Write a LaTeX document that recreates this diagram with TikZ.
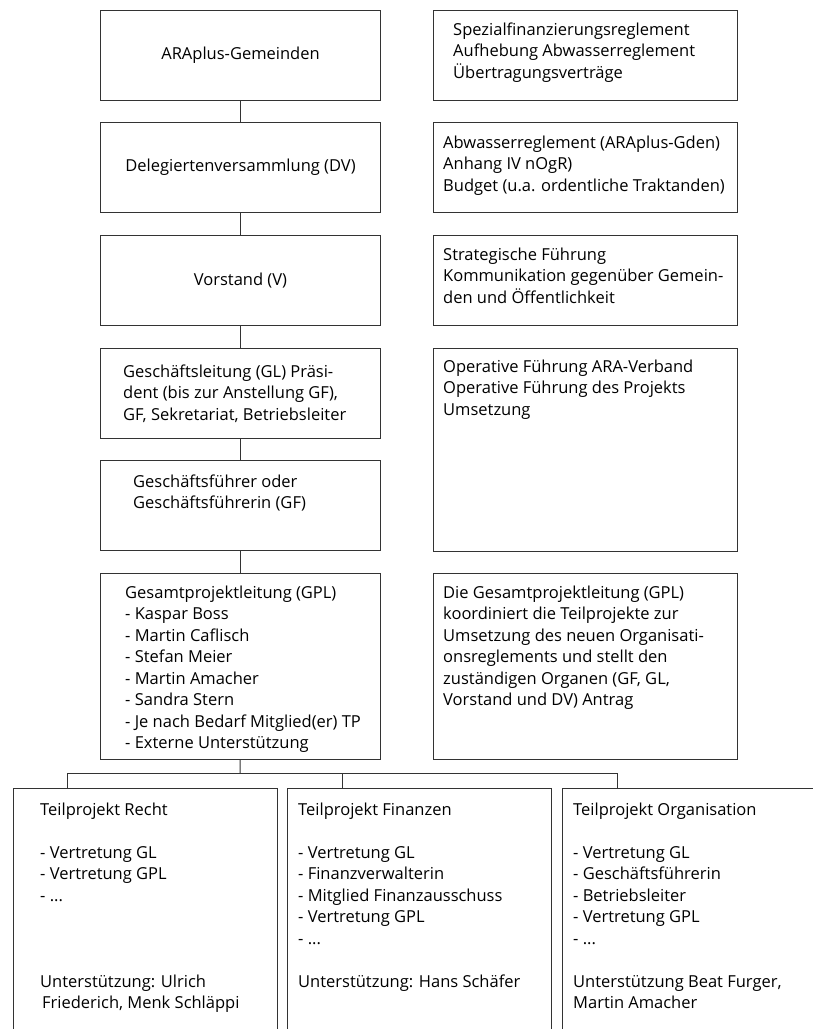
\documentclass[tikz,border=0pt]{standalone}
\usepackage{fontspec}
\setmainfont{Open Sans}
\usetikzlibrary{positioning}
\tikzset{orgbox/.style={draw=black!80,line width=1pt,anchor=north west,inner sep=0pt,
    minimum width=280pt,minimum height=90pt,font=\fontsize{16.5}{21.5}\selectfont},
  notebox/.style={orgbox,minimum width=304pt},
  tpbox/.style={orgbox,minimum width=264pt,minimum height=300pt},
  boxtext/.style={anchor=base west,align=flush left,text width=360pt,inner sep=0pt,
    font=\fontsize{16.5}{21.5}\selectfont},
  link/.style={draw=black!80,line width=1pt}}

\begin{document}
\begin{tikzpicture}[x=1pt,y=-1pt]
    \useasboundingbox (0,0) rectangle (813,1029);
    \clip (0,0) rectangle (813,1029);

    % Organe (links)
    \node[orgbox] (gemeinden) at (100,10) {ARAplus-Gemeinden};
    \node[orgbox] (dv) at (100,122) {Delegiertenversammlung (DV)};
    \node[orgbox] (vorstand) at (100,235) {Vorstand (V)};
    \node[orgbox] (gl) at (100,348) {};
    \node[orgbox] (gf) at (100,460) {};
    \node[orgbox,minimum height=186pt] (gpl) at (100,573) {};

    \node[boxtext] (gl-t) at (123,377) {Geschäftsleitung (GL) Präsi-\\dent (bis zur Anstellung GF),\\GF, Sekretariat, Betriebsleiter};
    \node[boxtext] (gf-t) at (133,487) {Geschäftsführer oder\\Geschäftsführerin (GF)};
    \node[boxtext] (gpl-t) at (125,598) {Gesamtprojektleitung (GPL)\\- Kaspar Boss\\- Martin Caflisch\\- Stefan Meier\\- Martin Amacher\\- Sandra Stern\\- Je nach Bedarf Mitglied(er) TP\\- Externe Unterstützung};

    % Aufgaben (rechts)
    \node[notebox] (n1) at (433,10) {};
    \node[notebox] (n2) at (433,122) {};
    \node[notebox] (n3) at (433,235) {};
    \node[notebox,minimum height=203pt] (n4) at (433,348) {};
    \node[notebox,minimum height=186pt] (n5) at (433,573) {};

    \node[boxtext] (n1-t) at (453,35) {Spezialfinanzierungsreglement\\Aufhebung Abwasserreglement\\Übertragungsverträge};
    \node[boxtext] (n2-t) at (443,148) {Abwasserreglement (ARAplus-Gden)\\Anhang IV nOgR)\\Budget (u.a. ordentliche Traktanden)};
    \node[boxtext] (n3-t) at (443,260) {Strategische Führung\\Kommunikation gegenüber Gemein-\\den und Öffentlichkeit};
    \node[boxtext] (n4-t) at (443,372) {Operative Führung ARA-Verband\\Operative Führung des Projekts\\Umsetzung};
    \node[boxtext] (n5-t) at (443,598) {Die Gesamtprojektleitung (GPL)\\koordiniert die Teilprojekte zur\\Umsetzung des neuen Organisati-\\onsreglements und stellt den\\zuständigen Organen (GF, GL,\\Vorstand und DV) Antrag};

    % Teilprojekte
    \node[tpbox] (recht) at (13,788) {};
    \node[tpbox] (finanzen) at (287,788) {};
    \node[tpbox] (orga) at (562,788) {};

    \node[boxtext] (recht-t) at (40,815) {Teilprojekt Recht\\[21.5pt]- Vertretung GL\\- Vertretung GPL\\- ...\\[64.5pt]Unterstützung: Ulrich\\\hspace*{2pt}Friederich, Menk Schläppi};
    \node[boxtext] (finanzen-t) at (298,815) {Teilprojekt Finanzen\\[21.5pt]- Vertretung GL\\- Finanzverwalterin\\- Mitglied Finanzausschuss\\- Vertretung GPL\\- ...\\[21.5pt]Unterstützung: Hans Schäfer};
    \node[boxtext] (orga-t) at (573,815) {Teilprojekt Organisation\\[21.5pt]- Vertretung GL\\- Geschäftsführerin\\- Betriebsleiter\\- Vertretung GPL\\- ...\\[21.5pt]Unterstützung Beat Furger,\\Martin Amacher};

    % Verbindungen
    \draw[link] (gemeinden) -- (dv);
    \draw[link] (dv) -- (vorstand);
    \draw[link] (vorstand) -- (gl);
    \draw[link] (gl) -- (gf);
    \draw[link] (gf) -- (gpl);

    \coordinate (fork) at (240,773);
    \coordinate (in-recht) at (67,788);
    \coordinate (in-finanzen) at (342,788);
    \coordinate (in-orga) at (617,788);
    \draw[link] (gpl) -- (fork);
    \draw[link] (in-recht) -- (in-recht |- fork) -- (in-orga |- fork) -- (in-orga);
    \draw[link] (in-finanzen) -- (in-finanzen |- fork);
\end{tikzpicture}
\end{document}
